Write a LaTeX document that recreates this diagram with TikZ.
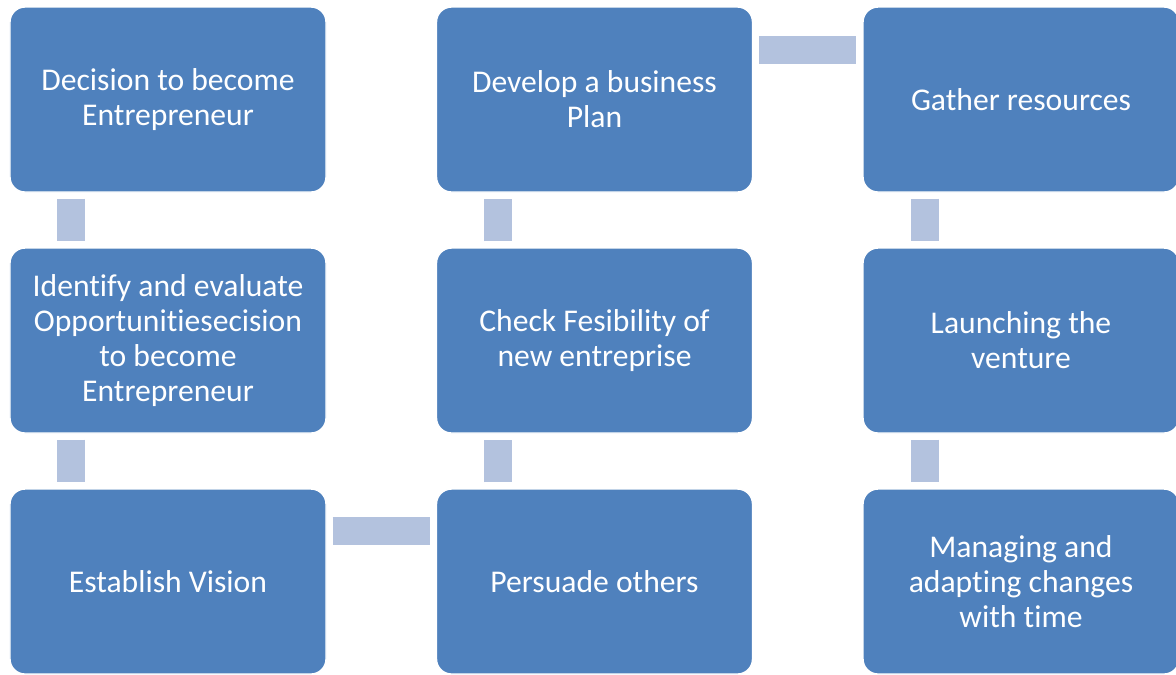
\documentclass[tikz,border=0pt]{standalone}
\usepackage{fontspec}
\setmainfont{Carlito}[Ligatures=NoCommon]

\begin{document}
\begin{tikzpicture}[baseline={(current bounding box.center)},
    stage/.style ={rectangle, rounded corners=0.15cm, fill={rgb,255:red,79;green,129;blue,189}, draw=white, line width=0.4pt,
      minimum width=3.16cm, minimum height=1.85cm, inner sep=0pt, text=white, align=center,
      font=\fontsize{9}{9.95}\selectfont},
    link/.style ={line width=0.28cm, draw={rgb,255:red,179;green,194;blue,222}, shorten <=0.06cm, shorten >=0.06cm}]
   \useasboundingbox (0,0) rectangle (11.76,-6.74);
   \clip (0,0) rectangle (11.76,-6.74);
   % first column, top to bottom
   \node[stage] (dec) at (1.68,-0.995) {Decision to become\\Entrepreneur};
   \node[stage] (ide) at (1.68,-3.405) {Identify and evaluate\\Opportunitiesecision\\to become\\Entrepreneur};
   \node[stage] (vis) at (1.68,-5.815) {Establish Vision};
   % second column, bottom to top
   \node[stage] (per) at (5.945,-5.815) {Persuade others};
   \node[stage] (fes) at (5.945,-3.405) {Check Fesibility of\\new entreprise};
   \node[stage] (pla) at (5.945,-0.995) {Develop a business\\Plan};
   % third column, top to bottom
   \node[stage] (gat) at (10.21,-0.995) {Gather resources};
   \node[stage] (lau) at (10.21,-3.405) {Launching the\\venture};
   \node[stage] (man) at (10.21,-5.815) {Managing and\\adapting changes\\with time};
   \draw[link] ([xshift=0.62cm]dec.south west) to ([xshift=0.62cm]ide.north west);
   \draw[link] ([xshift=0.62cm]ide.south west) to ([xshift=0.62cm]vis.north west);
   \draw[link] ([yshift=-0.43cm]vis.north east) to ([yshift=-0.43cm]per.north west);
   \draw[link] ([xshift=0.62cm]per.north west) to ([xshift=0.62cm]fes.south west);
   \draw[link] ([xshift=0.62cm]fes.north west) to ([xshift=0.62cm]pla.south west);
   \draw[link] ([yshift=-0.44cm]pla.north east) to ([yshift=-0.44cm]gat.north west);
   \draw[link] ([xshift=0.63cm]gat.south west) to ([xshift=0.63cm]lau.north west);
   \draw[link] ([xshift=0.63cm]lau.south west) to ([xshift=0.63cm]man.north west);
 \end{tikzpicture}
\end{document}
